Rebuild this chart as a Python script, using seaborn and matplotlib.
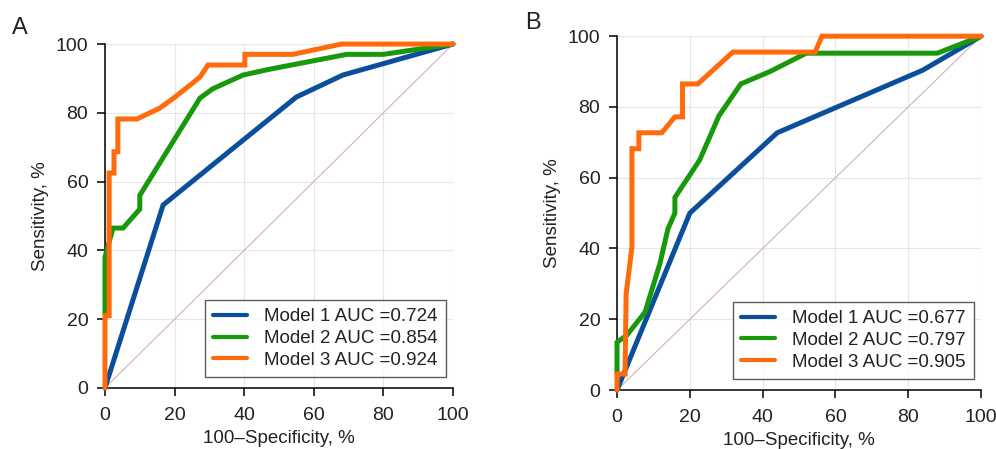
import matplotlib
matplotlib.use("Agg")
import matplotlib.pyplot as plt
import seaborn as sns
import pandas as pd

# Panel A ROC points (100-specificity, sensitivity)
a_m1_x = [0, 16.7, 55, 68.4, 100]
a_m1_y = [0, 53.2, 84.6, 91, 100]
a_m2_x = [0, 0, 2.3, 5.2, 10, 10, 27.3, 31, 39.7, 47.4, 69.5, 80, 100]
a_m2_y = [21.8, 38, 46.5, 46.5, 52, 56, 84.3, 87, 91, 92.7, 97, 97, 100]
a_m3_x = [0, 0, 1.2, 1.2, 2.6, 2.6, 3.7, 3.7, 9.2, 15.8, 20, 25, 27.3, 29.6, 40.2, 40.2, 54, 68, 100]
a_m3_y = [0, 21, 21, 62.5, 62.5, 68.7, 68.7, 78.2, 78.2, 81.4, 84.5, 88.5, 90.4, 93.9, 93.9, 97, 97, 100, 100]

# Panel B ROC points
b_m1_x = [0, 20, 44, 84, 100]
b_m1_y = [0, 50, 72.7, 90.4, 100]
b_m2_x = [0, 0, 2.7, 7.7, 11.8, 14, 15.9, 15.9, 22.7, 28, 34, 42, 52, 88, 100]
b_m2_y = [4.8, 13.5, 15.5, 22, 35.8, 45.6, 50, 54.4, 65, 77.5, 86.5, 90, 95.2, 95.2, 100]
b_m3_x = [0, 0, 2.2, 2.5, 4.1, 4.1, 6, 6, 12.3, 15.9, 18, 18, 22.2, 31.8, 54.4, 56.3, 100]
b_m3_y = [0, 4.5, 4.5, 27, 40.5, 68.2, 68.2, 72.7, 72.7, 77.2, 77.2, 86.5, 86.5, 95.5, 95.5, 100, 100]

auc_a = ["0.724", "0.854", "0.924"]
auc_b = ["0.677", "0.797", "0.905"]
model_names = ["Model 1", "Model 2", "Model 3"]
colors = ["#0b4f9c", "#18990c", "#ff6a0c"]

sns.set_style("white")
plt.rcParams["font.family"] = ["Liberation Sans", "DejaVu Sans"]


def draw_panel(ax, xs, ys, aucs):
    frames = []
    for name, auc, x, y in zip(model_names, aucs, xs, ys):
        frames.append(pd.DataFrame({"x": x, "y": y, "model": f"{name} AUC ={auc}"}))
    df = pd.concat(frames, ignore_index=True)
    ax.plot([0, 100], [0, 100], color="#c9a9ae", lw=0.7, zorder=1)
    sns.lineplot(data=df, x="x", y="y", hue="model", palette=colors, sort=False,
                 estimator=None, lw=3.6, ax=ax, zorder=3)
    for line in ax.get_lines():
        line.set_clip_on(False)
        line.set_solid_joinstyle("miter")
    ax.set_xlim(0, 100)
    ax.set_ylim(0, 100)
    ax.set_xticks(range(0, 101, 20))
    ax.set_yticks(range(0, 101, 20))
    ax.grid(True, color="#e6e6e6", lw=0.8)
    ax.set_axisbelow(True)
    for s in ["top", "right"]:
        ax.spines[s].set_visible(False)
    for s in ["left", "bottom"]:
        ax.spines[s].set_color("black")
        ax.spines[s].set_linewidth(1.1)
    ax.tick_params(axis="both", direction="out", length=6, width=1.1, labelsize=14,
                   color="black", labelcolor="#222222", bottom=True, left=True, pad=6)
    ax.tick_params(axis="x", pad=8)
    ax.set_xlabel("100\u2013Specificity, %", fontsize=13.5, color="#222222", labelpad=4)
    ax.set_ylabel("Sensitivity, %", fontsize=13.5, color="#222222", labelpad=5)
    leg = ax.legend(loc="lower right", bbox_to_anchor=(0.99, 0.02), fontsize=13.5,
                    frameon=True, fancybox=False, handlelength=1.8, borderpad=0.45,
                    labelspacing=0.25, handletextpad=0.9, borderaxespad=0.2)
    leg.get_frame().set_edgecolor("#333333")
    leg.get_frame().set_linewidth(1.0)
    for t in leg.get_texts():
        t.set_color("#222222")
    for h in leg.get_lines():
        h.set_linewidth(3.0)
    return leg


fig = plt.figure(figsize=(9.96, 4.49), dpi=100)
ax_a = fig.add_axes([0.1054, 0.1359, 0.3494, 0.766])
ax_b = fig.add_axes([0.6195, 0.1314, 0.3655, 0.788])

draw_panel(ax_a, [a_m1_x, a_m2_x, a_m3_x], [a_m1_y, a_m2_y, a_m3_y], auc_a)
draw_panel(ax_b, [b_m1_x, b_m2_x, b_m3_x], [b_m1_y, b_m2_y, b_m3_y], auc_b)

fig.text(0.012, 0.925, "A", fontsize=17, color="#222222")
fig.text(0.527, 0.935, "B", fontsize=17, color="#222222")

fig.savefig("out.png", dpi=100)
